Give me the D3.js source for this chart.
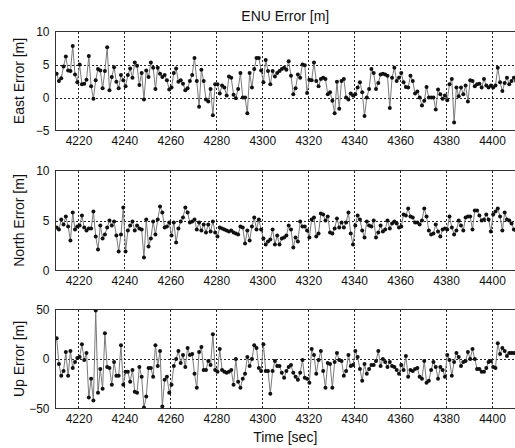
<!DOCTYPE html>
<html>
<head>
<meta charset="utf-8">
<script src="https://cdn.jsdelivr.net/npm/d3@7"></script>
<style>
  html, body { margin: 0; padding: 0; background: #fff; }
  svg { display: block; font-family: "Liberation Sans", Arial, sans-serif; }
</style>
</head>
<body>
<svg id="chart" width="515" height="448"></svg>
<script>
// ---------------- data ----------------
const timeStart = 4210.5;          // first sample time [sec], 1 s sampling
const xDomain = [4210, 4410];
const xTicks = [4220, 4240, 4260, 4280, 4300, 4320, 4340, 4360, 4380, 4400];

const eastTicks = [-5, 0, 5, 10];
const northTicks = [0, 5, 10];
const upTicks = [-50, 0, 50];

const eastErr = [
  3.6, 2.5, 2.9, 4.7, 6.2, 4.1, 4.0, 7.8, 3.5, 2.3,
  5.0, 2.0, 2.1, 2.7, 6.3, 1.7, -0.2, 2.6, 4.3, 4.1,
  1.4, 4.0, 7.6, 1.1, 3.1, 4.6, 2.4, 1.4, 3.4, 2.6,
  1.7, 3.4, 4.4, 3.0, 5.3, 4.8, 1.9, 3.7, -0.3, 4.1,
  3.1, 5.3, 4.5, 1.3, 4.5, 3.6, 3.1, 3.4, 2.6, 1.2,
  1.5, 3.7, 4.4, 2.4, 2.6, 2.1, 1.1, 1.4, 2.5, 3.4,
  6.0, 2.5, -1.4, 4.2,
  2.5, -0.3, -0.6, 1.3, -2.7, 2.0, 2.0, 0.6, 1.8, 1.5,
  0.3, 3.2, 3.0, 0.4, -0.1, 1.3, 3.7, 0.0, 0.0, -2.4,
  3.7, 1.5, 4.3, 6.0, 6.0, 4.1, 2.3, 5.7, 4.0,
  2.0, 4.0, 3.2, 3.7, 4.0, 4.3, 4.5, 4.2, 5.5, 3.3,
  0.5, 1.4, 3.5, 3.0, 5.0, 4.9, 0.7, 2.7, 2.6, 5.3,
  2.5, 1.7, 2.8, 3.0, 2.8, 0.5, 0.8, -0.5, -2.4, 2.4,
  -1.7, 2.5, 2.8, 0.0, -0.3, 0.6, 0.3, 0.5, 1.5, 2.3,
  0.8, -2.8, 0.0, 1.3, 4.3, 3.7, 1.3, 2.2, 3.5, 3.6,
  3.5, 3.3, -1.6, 3.0, 4.5, 2.5, 3.0, 3.7, 2.3, 1.6,
  1.5, 3.3, 2.5, 0.6, 0.9, 0.0, -1.2, -0.5, 1.6, 0.0,
  0.0, 0.0, -1.8, 1.2, 0.5, -0.2, 0.3, -0.4, 2.0, 2.8,
  -3.8, 1.5, 0.2, 1.5, 0.5, 1.8, -0.6, 2.6, 2.5, 1.7,
  2.0, 2.1, 1.5, 2.8, 1.8, 1.5, 1.8, 1.5, 1.8, 4.5,
  2.3, 1.0, 2.2, 3.0, 2.0, 2.5, 3.0, 2.5
];

const northErr = [
  4.3, 4.1, 5.1, 4.6, 5.4, 4.4, 3.0, 5.8, 4.1, 4.4,
  4.5, 5.5, 4.3, 4.0, 4.2, 4.2, 5.9, 3.4, 2.1, 4.5,
  3.2, 3.6, 4.3, 5.0, 4.5, 4.9, 3.5, 1.9, 3.6, 6.3,
  1.9, 4.0, 4.5, 4.9, 4.0, 4.5, 4.2, 4.1, 1.3, 5.1,
  2.4, 3.2, 4.9, 3.6, 5.1, 6.4, 5.8, 4.3, 4.4, 4.8,
  3.5, 4.8, 2.8, 4.2, 4.9, 5.3, 6.3, 5.8, 4.8, 4.9,
  5.1, 4.1, 4.8, 4.0, 4.6, 3.8, 4.6, 3.9, 4.9, 3.8,
  3.4, 4.3,
  4.2, 4.1, 4.0, 3.9, 4.0, 3.8, 3.7, 3.6, 4.4, 4.3,
  2.7, 4.0, 3.0, 4.4, 5.3, 4.1, 5.1, 4.1, 3.2, 2.6,
  2.9, 3.1, 4.1, 2.6, 3.5, 2.6, 3.2, 3.3, 3.5, 4.5,
  4.1, 2.3, 3.3, 2.9, 4.9, 4.4, 4.4, 4.0, 3.3, 5.1,
  5.3, 3.4, 3.7, 5.7, 5.6, 5.0, 5.4, 3.8, 3.7, 4.2,
  5.2, 4.3, 4.8, 4.3, 4.8, 5.8, 3.7, 2.6, 4.5, 5.5,
  5.1, 4.0, 3.3, 4.9, 4.5, 4.4, 5.0, 3.3, 3.8, 4.5,
  3.9, 4.1, 5.0, 4.2, 4.7, 4.9, 4.7, 4.3, 4.4, 5.6,
  5.5, 6.2, 5.4, 5.3, 4.8, 4.8, 4.6, 5.0, 6.2, 5.4,
  4.0, 3.6, 3.7, 4.6, 3.9, 3.4, 4.1, 4.2, 4.1, 5.4,
  4.3, 3.6, 4.0, 5.0, 4.5, 4.0, 5.3, 5.4, 5.4, 4.1,
  6.0, 6.0, 5.5, 5.0, 5.1, 5.6, 5.1, 3.9, 5.6, 5.9,
  6.2, 5.4, 4.0, 5.8, 5.1, 5.0, 4.7, 4.1, 4.0
];

const upErr = [
  21, -5, -17, -12, 7, -17, 8, -9, -3, 1,
  2, 15, -1, 6, -39, -20, -42, 49, -34, -10,
  -30, 26, -8, -9, -26, -3, -17, -17, 14, -26,
  -13, -13, -23, -11, -33, -34, -8, -18, -49, -38,
  -9, -9, -18, 14, -7, 8, -48, -21, -18, -34,
  -26, -7, 0, 8, -4, 4, -8, 11, 4, 5,
  -15, -29, 7, 12, -11, -11, -2, -6, 25, -11,
  -13, 10, -11, -13, -14, -13, -11, -26, 0, -23,
  -29, -20, -15, 2, -7, 0, 14, 11, -9, -12,
  15, -12, -12, -35, -12, -2, -7, -7, -14, -19,
  -12, -8, -6, -14, -18, -21, -14, -1, -19, -20,
  -24, 10, 4, -15, -1, 8, -12, -29, -4, -5,
  -29, -3, 6, -1, -2, -17, -12, 4, -7, -6,
  8, 2, -10, -22, -5, -15, -10, -6, -6, -2,
  8, -7, 0, -3, -8, -3, -7, -8, -11, -15,
  -6, -11, 3, -18, -11, -12, -10, -9, -18, -20,
  -2, -24, -22, -11, -3, -8, -20, -8, -11, -18,
  4, -1, -17, -3, 6, 2, -7, -3, -2, 7,
  0, 10, 0, -10, -10, -13, -13, -9, -3, -2,
  -8, -9, 16, 5, 11, 8, 3, 6, 6, 6
];

const yLabels = ["East Error [m]", "North Error [m]", "Up Error [m]"];
const titleText = "ENU Error [m]";
const xLabelText = "Time [sec]";

// ---------------- layout ----------------
const svg = d3.select("#chart");
const left = 55.5, right = 515;
const x = d3.scaleLinear().domain(xDomain).range([left, right]);

const panels = [
  { label: yLabels[0], values: eastErr,  domain: [-5, 10],  ticks: eastTicks,  top: 31.5,  bottom: 130.5 },
  { label: yLabels[1], values: northErr, domain: [0, 10],   ticks: northTicks, top: 170.5, bottom: 270.5 },
  { label: yLabels[2], values: upErr,    domain: [-50, 50], ticks: upTicks,    top: 309.5, bottom: 408.5 }
];

const defs = svg.append("defs");

panels.forEach((p, pi) => {
  const y = d3.scaleLinear().domain(p.domain).range([p.bottom, p.top]);
  const g = svg.append("g");
  const pts = p.values.map((v, i) => ({ t: timeStart + i, v }));

  defs.append("clipPath").attr("id", "clip" + pi)
    .append("rect").attr("x", left).attr("y", p.top)
    .attr("width", right - left + 1).attr("height", p.bottom - p.top);

  // grid
  const grid = g.append("g").attr("stroke", "#222").attr("stroke-width", 1)
    .attr("stroke-dasharray", "2,2").attr("shape-rendering", "crispEdges");
  grid.selectAll("line.vx").data(xTicks).join("line")
    .attr("x1", d => Math.round(x(d)) + 0.5).attr("x2", d => Math.round(x(d)) + 0.5)
    .attr("y1", p.top).attr("y2", p.bottom);
  grid.selectAll("line.hy").data(p.ticks.filter(d => d !== p.domain[0] && d !== p.domain[1])).join("line")
    .attr("x1", left).attr("x2", right)
    .attr("y1", d => Math.round(y(d)) + 0.5).attr("y2", d => Math.round(y(d)) + 0.5);

  // data
  const dg = g.append("g").attr("clip-path", `url(#clip${pi})`);
  dg.append("path").datum(pts)
    .attr("fill", "none").attr("stroke", "#7a7a7a").attr("stroke-width", 1)
    .attr("d", d3.line().x(d => x(d.t)).y(d => y(d.v)));
  dg.selectAll("circle").data(pts).join("circle")
    .attr("cx", d => x(d.t)).attr("cy", d => y(d.v)).attr("r", 2)
    .attr("fill", "#111");

  // axes
  const xAxis = d3.axisBottom(x).tickValues(xTicks).tickSize(0).tickPadding(6).tickFormat(d3.format("d"));
  const yAxis = d3.axisLeft(y).tickValues(p.ticks).tickSize(0).tickPadding(6).tickFormat(d3.format("d"));
  const ax = g.append("g").attr("transform", `translate(0,${p.bottom})`).call(xAxis);
  const ay = g.append("g").attr("transform", `translate(${left},0)`).call(yAxis);
  [ax, ay].forEach(a => {
    a.select(".domain").remove();
    a.selectAll("text").attr("font-size", 12).attr("fill", "#111")
      .attr("font-family", "Liberation Sans, Arial, sans-serif");
  });

  // box
  g.append("rect").attr("x", left).attr("y", p.top)
    .attr("width", right - left + 2).attr("height", p.bottom - p.top)
    .attr("fill", "none").attr("stroke", "#333").attr("stroke-width", 1)
    .attr("shape-rendering", "crispEdges");

  // y label
  g.append("text")
    .attr("transform", `translate(24,${(p.top + p.bottom) / 2}) rotate(-90)`)
    .attr("text-anchor", "middle").attr("font-size", 14).attr("fill", "#111")
    .text(p.label);
});

svg.append("text").attr("x", (left + right) / 2).attr("y", 21)
  .attr("text-anchor", "middle").attr("font-size", 14).attr("fill", "#111")
  .text(titleText);

svg.append("text").attr("x", (left + right) / 2).attr("y", 442)
  .attr("text-anchor", "middle").attr("font-size", 14).attr("fill", "#111")
  .text(xLabelText);
</script>
</body>
</html>
